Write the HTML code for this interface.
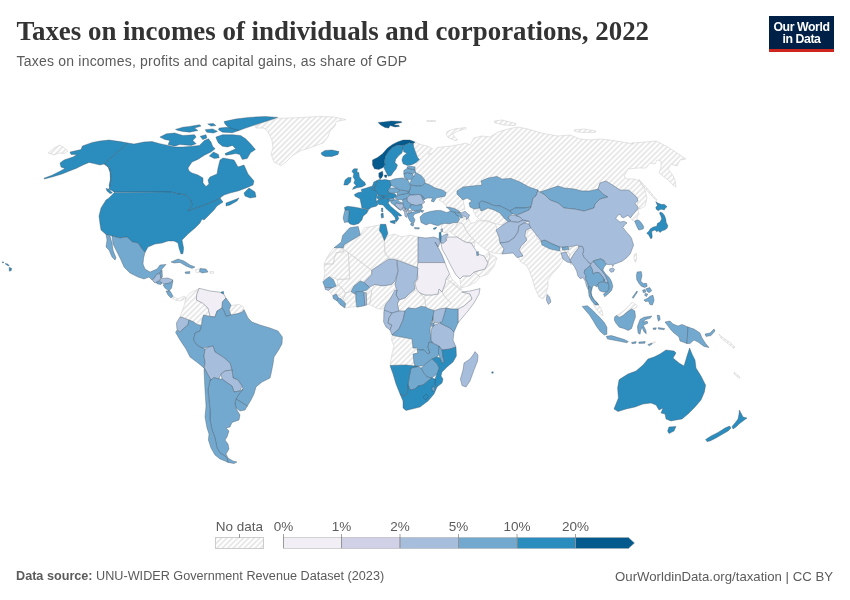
<!DOCTYPE html>
<html lang="en">
<head>
<meta charset="utf-8">
<title>Taxes on incomes of individuals and corporations, 2022</title>
<style>
html,body{margin:0;padding:0;background:#fff;}
body{width:850px;height:600px;position:relative;overflow:hidden;font-family:"Liberation Sans",sans-serif;color:#5b5b5b;}
#title{position:absolute;left:16.5px;top:15.3px;margin:0;font-family:"Liberation Serif",serif;font-weight:700;font-size:26.9px;line-height:32px;color:#333;white-space:nowrap;transform-origin:0 50%;}
#subtitle{position:absolute;left:16.5px;top:52.8px;margin:0;font-size:14px;letter-spacing:0.21px;line-height:17px;color:#5b5b5b;white-space:nowrap;transform-origin:0 50%;}
#logo{position:absolute;left:769px;top:16px;width:65px;height:33px;background:#002147;border-bottom:3px solid #ce261e;color:#fff;font-weight:700;font-size:12.3px;line-height:12px;text-align:center;letter-spacing:-0.42px;}
#logo span{display:block;}
#logo span.a{margin-top:5.2px;}
#footer-l{position:absolute;left:16px;top:568.8px;font-size:12.65px;line-height:15px;white-space:nowrap;transform-origin:0 50%;}
#footer-l b{font-weight:700;}
#footer-r{position:absolute;right:17px;top:568.8px;font-size:13.2px;line-height:15px;white-space:nowrap;transform-origin:100% 50%;}
#map{position:absolute;left:0;top:0;}
.lg{font-family:"Liberation Sans",sans-serif;font-size:13.5px;fill:#5b5b5b;}
</style>
</head>
<body>
<h1 id="title">Taxes on incomes of individuals and corporations, 2022</h1>
<p id="subtitle">Taxes on incomes, profits and capital gains, as share of GDP</p>
<div id="logo"><span class="a">Our World</span><span>in Data</span></div>
<svg id="map" width="850" height="600" viewBox="0 0 850 600">
<defs><pattern id="hatch" width="3.85" height="4" patternUnits="userSpaceOnUse" patternTransform="rotate(45)"><rect width="4" height="4" fill="#fff"/><line x1="1.9" y1="-1" x2="1.9" y2="5" stroke="#e8e8e8" stroke-width="1.9"/></pattern></defs>
<g fill="url(#hatch)" stroke="#d2d2d2" stroke-width="0.6" stroke-linejoin="round">
<path d="M255 126L264 122L278 118.4L300 117.6L320 116.4L334 117L346 119.6L336 121.6L335 126L330 131L328 137L323 143L312 147L300 151L292 156L286 162L281 165.6L274 162L271 154L273 148L272 140L268 132L264 128L256 128ZM48 153L54 148L60 145L63 147L68 151L64 153.6L59 153L54 155ZM173 296.4L178 299L184 296L186.4 298L180 301L175 300L172.4 298.4ZM195.6 269.4L199.6 269L199.6 272.4L196 272.4ZM210 271.6L213.6 271.6L213.6 273.2L210 273.2ZM180 317L184 306L186 298L190 293L199 288.4L196.6 295L196.4 300L202.4 303L208 308L210 316.4L203.6 315L202 320L201.6 325.6L197 324.4L193 321.6L189 320L184 318ZM231 305.6L239 304.4L243.6 307L242.4 312L238 313.6L231 314.4L229.4 310ZM447.5 131.2L455 128.8L466 127.5L466 128.8L457.5 131.2L452.5 134.4L457.5 140L455 140.6L448.1 137.5L446.2 134.4ZM426.9 120.6L435.6 120.6L435.6 121.6L426.9 121.6ZM415 141.9L420 144.4L427.5 146.2L432.5 148.8L430 151.2L428.1 154.4L432.5 153.1L437.5 147.5L442.5 146.9L450 146.2L460 144.4L466 143.1L470 145L474 138L482 136L490 137L498 132L508 129L518 127L528 129L538 132L546 134L558 136L570 135L580 139L590 140L600 139L610 140L622 142L634 144L632 143L646 142L656 141L666 146L674 151L680 155L686 159L680 160L677 166L671 164L668 169L672 174L675 180L676 187L673 185L668 180L663 176L659 173L661 168L661 161L657 160L655 164L650 163L646 168L638 168L628 169L624 176L627 179L634 179L640 181L645 190L647 198L645 206L640 209L637 206L638 201L634 194L628 192L620 190L614 186L606 181L600 183L598 189L590 191L582 191L574 189L564 188L558 186L549 189L540 192L538 191L530 188L520 186L511 179L502 180L496 177L484 180L482 186L470 188L463 187L457 191L457 194L460 197L463 200L465 209L460 211L454 208L447 207L444 203L439 200L442 197L444 192L438 189L428 185L435 188.1L430 185L425 183.1L424.4 179.4L421.2 175.6L415.6 172.5L415 170L415 166.9L419.4 159.4L417.5 157.5L415.6 152.5L413.8 147.5L413.1 143.8ZM401.2 178.1L405 177.2L407.5 179.4L404.4 178.8ZM494 121L502 120L516 123.6L515 125.6L504 125L495 123ZM574 130L584 129L596 131L595 132.4L582 132.4L575 131.6ZM639 179.4L646 187L652 194L657 200L656 200.4L650 194L644 187L638.6 180ZM473 210L480 208.4L481 211L488 208L494 210L500 213L504 218L508 221.6L502 225L496 224L488 221L480 220L476 216ZM458 222.4L463 224L466 230L470 236L475 241L471 243L465 242L457 237L450 232L455 228ZM458 222.4L459.6 219.2L463 217.6L466.6 219.6L468.4 218L470.8 223.2L475 222.6L477 220L480 221L488 221L496 224.4L497 230L499 237L500 243L504 249L502 254L494 253L488 251L482 247L475 241L470 236L466 230L463 224ZM471 243L475 241.6L474.4 247ZM479 257L484 256L489 252L490 256L488 263L485 259ZM489 253L497 258L494 266L488 274L480 277L474 272L485 269L488 263L490 256ZM460 279L463 276L470 276L474 272L480 277L476 282L468 286L461 288ZM440.8 224.2L445 223.3L450 223.8L453.3 222.5L457.5 222.5L455 227.5L451.7 230L446.7 233.3L442.5 231.7L441.7 228.3ZM527 230L535 230L537 238L541 242L541.6 243.6L550 247L560 250L561 252L563 260L562 262L558 268L552 274L548 280L548 286L546 294L543 299L539 297L535 288L532 278L529 270L526 265L521 262L518 257L523 256L520 250L523 247L527 236ZM719 334L722 337L730 342.4L735 347L734 348.4L728 343.6L721 338ZM734.4 372.4L740 377L739.6 378.4L734 374ZM564.4 250.2L569.7 246.7L573.7 243.7L576.7 243.4L579.6 246.1L577.8 249L574.9 252.5L572.6 256L570.2 260.1L569.1 258.3L569.7 254.2L567.3 252.5L564.4 252.5ZM634.4 254.2L636.4 253.7L636.7 258.3L635.6 262.4L633.8 258.9ZM630.4 217.9L632.5 215L635 212.1L637.9 208.8L639.6 207.9L637.9 210.8L639.2 214.2L637.1 216.7L637.1 220L634.6 221.2L632.5 220.4ZM593.2 304.4L597.1 303.8L600.4 307L602.3 311.6L603 315.5L600.4 314.2L597.8 310.9L595.2 307.7ZM616.6 315.5L619.9 313.5L625.1 309.6L629.6 305.1L632.2 302.1L637.4 305.7L635.5 308.3L631.6 309L627.7 311.6L623.1 315.5L619.2 317.4ZM651.7 343L655 341.5L655.6 342.4L652.2 343.9ZM559 246L563 246L570 249L578 244.4L579.6 249L576 255L573 260L571 265L569.6 260L570 254L567 251L562.4 250.4L560 251.6ZM388 236L394 234L402 237L410 235L418 237L418 263L418 268L397 259L389 258L385 253L384 241L384.4 240.6ZM399 300L405 298L410 293L415 290L420 293L425 299L425.6 307L421 306.4L415 308.8L408 307.8L405 311L399 311L397.4 304ZM420 293L425 295L432 295L438 294L439 289L442 292L445 297L451 303L446 308L439 309L434 310.4L429 309L425.6 307L425 299ZM445 284L449.6 281L458 287L462 292L470 294L472 299L464 306L458 309L451 309L446 308L451 303L445 297L442 292ZM449.6 274L452 279L458 285L462 290L460 289.4L454 285L449.6 281L446 279ZM384 312L388 312.6L387.6 315L384 315ZM392 336L396 336L412 339L413 348L417 349L418 353L414 354L414 363L415 366L406 365L390 365L392 354L394 346L391.6 340ZM431 327L434 326L434.4 330L431.6 330.4ZM334.1 247.7L343.3 247.7L343.3 251.9L336.2 252.6L334.1 259L333.4 264L324.2 264L327 257.6L330.6 251.9ZM324.2 264L333.4 264L334.1 259L336.2 252.6L343.3 251.9L343.3 249.1L348.3 252.6L349.7 278.8L337.7 279.5L330.6 276.7L327 278.1L323.5 280.2L324.9 273.2L324.2 267.5ZM348.3 252.6L371.7 270.3L371.7 274.6L363.9 281.7L360.3 280.9L354 285.9L351.1 291.6L347.6 292.3L345.5 293L341.9 288L337.7 284.5L337 279.5L349.7 278.8ZM360.3 234.9L364.6 227.8L379.4 225L380.2 232.1L384.4 240.6L385.1 253.3L388.7 257.6L371.7 270.3L348.3 252.6L343.3 249.1L343.3 247.7L344 244.8L349.7 241.3L354.7 238.5ZM328.5 290.4L332 288L336.2 285.9L337.7 284.5L341.9 288L345.5 293L343.3 298.7L339.8 295.8L336.2 294.4L332.7 295.8ZM345.5 293L351.1 291.6L355.4 294.4L356.1 306.4L345.5 307.9L345.5 303.6L343.3 298.7ZM366.3 292.7L369.5 288L371.7 290.2L370.9 297.2L369.5 304.3L366.8 304.7ZM369.5 304.3L370.9 297.2L371.7 290.2L374.5 284.5L383 285.9L391.5 284.5L395 280.9L397.9 290.2L394.3 295.8L391.5 300.1L385.8 304.3L383 309.3L377.3 308.6L371.7 305.7Z"/>
</g>
<g stroke="#3a4a5a" stroke-opacity="0.7" stroke-width="0.5" stroke-linejoin="round">
<path fill="#2b8cbe" d="M104.4 163.6L109.6 168L111 176L110.4 184L115 192.4L112 190L109 186L110.4 179L110 172L108 167L104 164L100 165L94 163.6L89 162.4L83 165L76 168.4L70 170.8L62 174L52 177L44.4 179L44 178.2L52 175.2L60 171.2L65 168.4L61 167L60 163L64 160L73 157L77 154.4L71 154.4L70 152L81 149.6L82.4 146L92.4 142.4L100 141L109 140L120 141.6L128 143Z"/>
<path fill="#2b8cbe" d="M128 143L134 144L144 142L152 141.6L159.9 143.7L168.1 145.4L174.7 147L182.9 147L192.8 146.2L199.4 145.4L204.4 140.4L208.5 138.8L211 142.1L212.6 146.2L215.1 148.7L211 152L204.4 155.2L197.8 159.4L192 162L188 168L189 171L192 173L198 175L203 178L203 183L206 186.4L209 184L208 180L210 177L217 174L218 168L220 160L223 158L234 160L238 167L244 165L248 174L254 181L253 185L246 188L238 191L230 193L224 195L220 198L217 200L210 203L202 206L194 209L188 211L189 209L192 205L191 200L186 195L180 194L178 194L171 192L114.4 192L109 189L110.4 184L111 176L109.6 168L104.4 163.6Z"/>
<path fill="#2b8cbe" d="M114.4 192.4L171 192L178 194L180 194L186 195L191 200L192 205L189 209L188 211L194 209L202 206L210 203L217 200L220 198L223 202L217 206L214 210L210 214L204 220L202 219L200 223L195 228L188 234L182 240L183.6 248L183 253.6L181 254L179 248L178 243L174 241L168 241L162 243L155 244L148 247L145 252.4L142 249L138 243L132.4 242L127 237L120 238L112 236L106 234.4L101 230L100 224L99 216L101 208L106 200L109 198Z"/>
<path fill="#2b8cbe" d="M224.1 121.5L235.7 119L248.8 117.4L265.3 116.5L277.7 117.4L265.3 121.5L255.4 124.8L245.6 128.1L239 130.5L232.4 129.7L227.4 126.4L225 123.9Z"/>
<path fill="#2b8cbe" d="M207.7 123.9L213.4 123.5L215.9 125.6L211 126.1Z"/>
<path fill="#2b8cbe" d="M219.2 128.1L227.4 127.2L239 130.5L232.4 132.7L222.5 132.2L218.4 129.7Z"/>
<path fill="#2b8cbe" d="M175.5 129.4L182.9 127.2L189.5 126.4L199.4 124.8L201.1 126.1L194.5 128.1L197.8 130.5L189.5 132.2L182.9 131.4L178 130.5Z"/>
<path fill="#2b8cbe" d="M205.2 129.7L212.6 128.9L217.5 131.4L213.4 133L206.8 132.2Z"/>
<path fill="#2b8cbe" d="M159.9 137.1L166.5 133.8L174.7 133L182.9 135.5L194.5 134.7L196.1 137.1L192.8 140.4L196.1 143.7L191.2 145.4L179.7 144.5L174.7 146.2L168.1 144.5L169.8 140.4L164.8 139.6Z"/>
<path fill="#2b8cbe" d="M200.2 136.3L206 134.7L206.8 137.9L202.7 139.6Z"/>
<path fill="#2b8cbe" d="M215.9 137.1L222.5 134.7L232.4 134.7L240.6 135.5L245.6 138.8L250.5 143.7L255.4 149.5L250.5 152.8L247.2 158.5L242.3 159.4L239.8 154.4L235.7 153.6L230.7 154.4L225.8 155.2L225 153.6L230.7 151.1L235.7 148.7L232.4 145.4L227.4 147L222.5 146.2L218.4 142.9L216.7 139.6Z"/>
<path fill="#2b8cbe" d="M209.3 156.1L213.4 152L218.4 154.4L219.2 157.7L214.3 158.5Z"/>
<path fill="#2b8cbe" d="M244 193L249 188L255 192L256 197L250 198L245 196Z"/>
<path fill="#2b8cbe" d="M226 203L234 200L239 198L237 201L230 205L226 206Z"/>
<path fill="#2b8cbe" d="M106 188.4L109 189.2L112.4 193L110 193.6L107 191Z"/>
<path fill="#2b8cbe" d="M321 153L325 150.4L332 150L339 151.6L338 154.4L332 156.4L325 156.4L322 155Z"/>
<path fill="#2b8cbe" d="M9.2 267.3L11.7 268.5L11.2 270.6L9.3 271.2Z"/>
<path fill="#2b8cbe" d="M5.5 263.4L7.5 264L9.2 265.4L8.6 266L6.8 265L5.4 264Z"/>
<path fill="#2b8cbe" d="M2.3 261.8L3.6 262L3.5 262.9L2.3 262.7Z"/>
<path fill="#74a9cf" d="M106 234.4L110 236L112 243L113 250L116 258L115 260L112 257L109 250L106 247L107 240Z"/>
<path fill="#74a9cf" d="M112 236L120 238L127 237L132.4 242L138 243L142 249L145 252.4L143.6 258L143 264L145 269L150 272L157 269L160 265L166 264.4L162 269L160 273L157 274L155 277L152 280L149 277L144 279L138 277L130 273L124 267L121 260L117 252L113 244Z"/>
<path fill="#a6bddb" d="M155 277L157 274L160 273.6L161 278L159 281L155 283L152.4 280.4Z"/>
<path fill="#74a9cf" d="M160 273L162 270L162.4 277L161 278Z"/>
<path fill="#a6bddb" d="M161 278.4L168 278L173 280L170 283L165 284L162 283L159.6 281Z"/>
<path fill="#74a9cf" d="M156 282.6L159 281L162 283L161 284.4L157.6 284Z"/>
<path fill="#74a9cf" d="M165 284L170 283L173 280.4L171.6 288L169 291L165 288L163 285Z"/>
<path fill="#74a9cf" d="M166 291L170 291L173 296L171 298L168 295Z"/>
<path fill="#74a9cf" d="M171 262L178 259L184 261L190 265L195 267L192 268.4L186 266L180 262.4L174 263Z"/>
<path fill="#74a9cf" d="M200 268.4L206 269L208 272L202 273L199.6 271.6Z"/>
<path fill="#74a9cf" d="M185 272L190 271.6L189.6 273.6L185.6 273.6Z"/>
<path fill="#2b8cbe" d="M221 292L223.6 291.6L223.6 294.4L221.2 294.4Z"/>
<path fill="#f1eef6" d="M199 288.4L202.4 289L210 291L219 292L223.6 294L226 298L222.4 302L222 308L217 311L215 317L210 316.4L208 308L202.4 303L196.4 300L196.6 295Z"/>
<path fill="#74a9cf" d="M226 298L231 305L229 310L231 315L226 316.4L224 311L222 308L222.4 302Z"/>
<path fill="#a6bddb" d="M180 317L184 318L189 320L188 325L183 329L180 332.4L177 329.6L176.4 323Z"/>
<path fill="#74a9cf" d="M177 330L180 332.4L183 329L188 325L189 320L193 321.6L197 324.4L201.6 325.6L200 331L195 333L193.6 340L197 345L202.4 348L205 349L204 356L205 362L204 368L198 363L190 357L186 349L180 340L175.6 332.4Z"/>
<path fill="#74a9cf" d="M201.6 325.6L202 320L203.6 315L210 316.4L215 317L217 311L222 308L224 311L226 316.4L231 315L238 313.6L242.4 312L244 309.6L248 318L252 322L260 325L270 328L278 331L282.4 337L282 344L278 351L274 357L273 364L271 374L270 378L262 382L256 387L254 394L251 400L247.4 406L236 399L239 394L243 389L242 386L238 380L233 378L232 370L230 363L223 357L215 352L213 346L209 347L202.4 348L197 345L193.6 340L195 333L200 331Z"/>
<path fill="#a6bddb" d="M205 349L209 347L213 346L215 352L223 357L230 363L232 370L225 371L221 374L219 379L214 377.6L211 380L208 375L204.4 368L205 362L204 356Z"/>
<path fill="#a6bddb" d="M221 374L225 371L232 370L233 378L238 380L242 386L240 391L234 392L232 386L226 382L222 379Z"/>
<path fill="#74a9cf" d="M236 399L247.4 406L245 410L240 411L236 408L235 403Z"/>
<path fill="#74a9cf" d="M211 380L214 377.6L219 379L222 379L226 382L232 386L234 392L240 391L243 389L239 394L236 399L235 403L236 408.4L240 415L239 420L232 422.4L230 427L226 428L229 431L227 437L225 440L228 444L229 449L226 454L228 458L233 461L237 462L234 463.6L228 462.4L227 458L225 456L220 453L217 448L215 438L212 430L210 420L210 410L209 400L208 390L210 380Z"/>
<path fill="#74a9cf" d="M204.4 368L208 375L211 380L210 380L208 390L209 400L210 410L210 420L212 430L215 438L217 448L220 453L225 456L227 458L228 462.4L225 461L220 459L215 455L211 448L208.4 440L209 434L207 428L205 417L206 406L205 390L204 370Z"/>
<path fill="#2b8cbe" d="M343.8 185L345 180L348.1 177.5L351.2 177.5L350.6 181.9L347.5 185Z"/>
<path fill="#2b8cbe" d="M351.9 171.2L353.8 168.8L357.5 168.8L356.9 171.9L358.8 172.5L359.4 176.9L361.9 180L365 182.5L365.6 185L361.9 186.9L356.9 187.8L352.5 189.4L353.8 186.9L356.2 185.6L353.8 183.1L355 180L353.1 176.9L353.8 173.8Z"/>
<path fill="#2b8cbe" d="M354.4 194.4L358.1 192.5L361.9 191.9L361.2 189.4L366.2 188.1L369.4 186.9L371.2 188.8L375.6 190.6L378.1 193.1L376.2 197.5L376.2 201.2L378.1 204.4L376.2 206.2L371.2 207.5L368.8 209.4L361.9 208.1L361.2 204.4L360 198.8L355 196.2Z"/>
<path fill="#2b8cbe" d="M381.5 208.1L382.8 208.1L382.8 211.9L381.5 211.5Z"/>
<path fill="#2b8cbe" d="M344.4 207.5L347.5 206.2L355 207.2L361.9 208.5L368.5 209.8L366.9 213.1L363.1 216.2L361.9 220L358.8 223.5L353.8 225L350 224L348.1 221.9L348.8 213.8L349.4 210.6L345 210Z"/>
<path fill="#74a9cf" d="M345 210L349.4 210.6L348.8 213.8L348.1 221.9L344.4 222.5L343.1 218.1L344 213.8Z"/>
<path fill="#2b8cbe" d="M369.4 186.9L372.5 186L375 187.8L375.6 190.6L371.2 188.8Z"/>
<path fill="#2b8cbe" d="M372.5 186L373.8 181.9L376.9 180.6L376.2 185L375 187.8Z"/>
<path fill="#2b8cbe" d="M376.9 180.6L379.4 179.4L381.9 180L385 179.4L390 180.6L391.2 185.6L390 188.1L388.1 190.6L390 193.1L387.5 195.6L382.5 196L378.1 195.2L378.1 193.1L375.6 190.6L375 187.8L376.2 185Z"/>
<path fill="#045a8d" d="M378.8 173.1L382.5 171.2L383.1 175L381.9 177.5L380 179L378.8 176.2Z"/>
<path fill="#045a8d" d="M384.4 175L386.9 175L386.5 177.5L384.8 177.2Z"/>
<path fill="#2b8cbe" d="M376.2 197.5L378.1 195.2L382.5 196L383.1 198.1L378.8 199.8Z"/>
<path fill="#2b8cbe" d="M382.5 196L387.5 195.6L390 193.1L395 193.8L396.9 196.2L393.8 198.1L388.8 198.8L385 198.1L383.1 198.1Z"/>
<path fill="#2b8cbe" d="M376.2 201.2L378.8 199.8L383.1 198.1L388.8 198.8L390 200.6L388.1 203.1L390.6 206.2L395 210L398.8 213.1L401.9 215.6L400 216.2L397.5 215L398.8 218.8L396.2 221.9L395 217.5L391.2 213.1L386.2 208.8L383.1 205L378.8 204.4Z"/>
<path fill="#2b8cbe" d="M390 221.2L395.6 220L395 223.8L390.6 222.5Z"/>
<path fill="#2b8cbe" d="M381 213.8L383.1 213.1L383.5 217.5L381.5 218.1Z"/>
<path fill="#74a9cf" d="M388.8 198.8L393.8 198.1L394.4 200L390.6 201Z"/>
<path fill="#74a9cf" d="M390.6 201L394.4 200L397.5 199.4L400 201.9L403.1 203.1L400 203.8L396.2 203.1L395 205L397.5 207.5L401.2 210.6L398.1 208.8L393.8 205L391.2 203.1Z"/>
<path fill="#a6bddb" d="M396.2 203.1L400 203.8L403.1 203.8L403.8 206.9L401.2 210L397.5 207.5L395 205Z"/>
<path fill="#74a9cf" d="M396.9 196.2L398.8 195L405 193.8L408.8 192.5L410 195L406.9 198.1L402.5 200L397.5 199.4L395 198.1Z"/>
<path fill="#74a9cf" d="M388.1 190.6L390.6 188.1L396.2 187.8L400 190L397.5 192.5L393.8 193.1L390 193.1Z"/>
<path fill="#74a9cf" d="M397.5 192.5L400 190.4L405 190.6L409.4 191.2L408.8 192.5L405 193.8L398.8 195L396.9 195.6Z"/>
<path fill="#74a9cf" d="M390 180.6L395 178.8L401.2 178.1L407.5 179.4L410 183.8L410.6 188.1L409.4 191.2L405 190.6L400 190L396.2 187.8L391.2 185.6Z"/>
<path fill="#74a9cf" d="M403.8 173.8L407.5 172.5L412.5 173.8L413.8 176.9L411.2 179.4L407.5 179.4L404.4 177.5Z"/>
<path fill="#74a9cf" d="M403.8 170.6L407.5 168.1L415 170L415.6 172.5L412.5 173.8L407.5 172.5L403.8 173.8Z"/>
<path fill="#74a9cf" d="M406.9 166.9L410 166L415 166.9L415 170L407.5 168.1Z"/>
<path fill="#74a9cf" d="M411.2 179.4L413.8 176.9L415.6 172.5L421.2 175.6L424.4 179.4L425 183.1L422.5 185.6L417.5 186.2L410.6 185L410 183.8Z"/>
<path fill="#74a9cf" d="M410.6 185L417.5 186.2L422.5 185.6L425 183.1L430 185L435 188.1L442.5 190L446.2 192.5L445 196.2L441.2 196.9L436.2 198.1L433.8 201.9L431.2 201.2L432.5 198.1L427.5 198.1L424.4 199.4L422.5 196.2L418.8 194.4L413.8 195L410 195L408.8 192.5L409.4 191.2L410.6 188.1Z"/>
<path fill="#74a9cf" d="M421.2 195.6L422.5 196.2L424.4 199.4L423.1 200.6Z"/>
<path fill="#a6bddb" d="M410 195L413.8 195L418.8 194.4L421.2 195.6L423.1 200.6L425 201.9L421.9 204.4L416.2 205.6L411.2 204.4L406.9 201.2L406.9 198.1Z"/>
<path fill="#74a9cf" d="M402.5 200L406.9 198.1L406.9 201.2L411.2 204.4L410 207.5L408.1 210L405 208.8L403.8 206.9L403.1 203.8Z"/>
<path fill="#74a9cf" d="M411.2 204.4L416.2 205.6L421.9 204.4L422.5 207.5L420.6 210L416.2 211.2L411.9 210.6L410 207.5Z"/>
<path fill="#a6bddb" d="M404.4 211.2L406.2 210.6L407.5 213.8L406.9 217.5L405 216.2Z"/>
<path fill="#a6bddb" d="M407.5 210.6L411.2 210.6L411.9 212.5L408.8 213.8Z"/>
<path fill="#a6bddb" d="M405.6 208.1L408.1 210L407.2 211.2L405.2 210Z"/>
<path fill="#a6bddb" d="M401.9 208.1L404.4 207.5L405.2 210L403.5 211.2Z"/>
<path fill="#74a9cf" d="M407.5 213.8L411.9 212.5L416.2 211.2L420.6 210.6L420 212.5L415 213.8L413.1 216.2L415 220L413.8 223.1L410 221.2L408.1 217.5Z"/>
<path fill="#74a9cf" d="M411.2 222.5L413.8 223.8L413.1 226.2L410.6 225Z"/>
<path fill="#74a9cf" d="M414.4 227.5L419.4 227.8L419 229L414.8 228.8Z"/>
<path fill="#74a9cf" d="M420.6 210L423.8 210.6L422.5 212.5L421 211.9Z"/>
<path fill="#045a8d" d="M378.1 122.5L383.8 121.9L391.2 121L401.2 121.5L401.9 122.5L396.2 123.5L393.8 125L398.8 125.2L399.4 126.5L395 126.9L390 125.6L388.8 128.1L385 127.5L380.6 125Z"/>
<path fill="#045a8d" d="M372.5 160L377.5 157.5L382.5 153.8L387.5 148.1L392.5 144.4L397.5 141.9L403.1 140L410 140L415 141.9L413.1 143.8L409.4 142.8L406.2 144.4L402.5 145.6L397.5 145L392.5 147.5L388.8 151.2L385.6 156.2L384.4 161.2L385 165L383.1 167.5L378.8 169.4L374.4 168.8L372.5 165Z"/>
<path fill="#2b8cbe" d="M397.5 145L402.5 145.6L403.1 148.8L401.9 153.1L398.8 155.6L395.6 159.4L395 162.5L397.5 165L396.2 168.8L393.1 172.5L391.2 175.6L388.1 176.2L385.6 171.2L383.8 167.5L385 165L384.4 161.2L385.6 156.2L388.8 151.2L392.5 147.5Z"/>
<path fill="#2b8cbe" d="M402.5 145.6L406.2 144.4L409.4 142.8L413.1 143.8L413.8 147.5L415.6 152.5L417.5 157.5L419.4 159.4L416.2 162.5L412.5 164.4L407.5 165.6L403.1 163.8L401.9 160L403.1 156.2L406.9 153.1L403.8 151.9L403.1 148.8Z"/>
<path fill="#74a9cf" d="M457 191L463 187L472 186L482 185L481 181L488 178L497 176.4L502 179L511 178.4L520 182L529 187L538 190L536 196L533 198L532 203L531 207L524 208L515 208L510 211L506 209L500 206L494 205.6L488 203L482 201L479 203L480 208L474 209L470 207L469 203L472 201L467 198L463 200L460 197L457 194Z"/>
<path fill="#74a9cf" d="M479 203L482 201L488 203L494 205.6L500 206L506 209L510 211L514 213L510 215L508 218L511 221L508 221.6L504 218L500 213L494 210L488 208L484 210L481 211L480 208Z"/>
<path fill="#74a9cf" d="M510 211L515 208L524 208L531 207L529 210L522 213L516 215L512 213.6Z"/>
<path fill="#a6bddb" d="M508 218L511 215L516 215.6L520 217L523 220L518 222.4L512 221.6Z"/>
<path fill="#a6bddb" d="M496 230L502 225.6L508 221.6L512 221.6L518 222.4L523 220L529 221L524 223L519 226L518 232L514 238L508 242L500 243L499 237Z"/>
<path fill="#a6bddb" d="M500 243L508 242L514 238L518 232L519 226L524 223L529 224L531 228L526 230L525 236L527 240L522 245L519 250L523 256L517 257.6L513 253L502 254L504 249Z"/>
<path fill="#74a9cf" d="M541 241L545 240L552 243.6L560 247L559.6 251L550 249L542 245Z"/>
<path fill="#74a9cf" d="M562 247L568 246.4L569 249.6L562.4 250Z"/>
<path fill="#a6bddb" d="M561 253L566 252L569 258L571 263L567 262L563 259Z"/>
<path fill="#74a9cf" d="M540 192L549 189L558 186L564 188L574 189L582 191L590 191L598 189L603 194L608 197L600 199L595 204L594 208L584 211L574 209L564 208L558 203L550 200L545 195Z"/>
<path fill="#f1eef6" d="M441 243L445 241L448 237L457 237L465 242L471 243L475 249L478 254L484 256L488 263L485 269L474 272L470 276L463 276L460 279L456 275L451 266L446 256L442 249Z"/>
<path fill="#74a9cf" d="M476.6 252L478.4 251.6L478.4 255.6L476.8 255.6Z"/>
<path fill="#74a9cf" d="M420 217L423.5 213.5L430 211.5L436 210.5L440.8 210.4L446.7 212.5L450.4 211.2L455 212.1L457.5 214.6L458.8 217.1L459.6 219.2L457.5 222.5L453.3 222.5L450 223.8L445 223.3L440.8 224.2L438.3 225.8L435 225L430 223.3L426 225L421 222.4Z"/>
<path fill="#74a9cf" d="M446.2 207.1L450 207.5L455 208.8L459.2 211.2L460.8 212.9L457.5 212.5L455 212.1L450.4 211.2L449.2 209.2Z"/>
<path fill="#74a9cf" d="M455.4 212.9L458.8 212.5L461.2 214.6L462.9 217.5L460.8 217.9L458.3 215.8L456.2 215Z"/>
<path fill="#a6bddb" d="M460.4 213.2L465 211.2L467.9 213.8L469.6 215L468.3 217.9L466.7 219.6L466.2 217.1L463.3 216.2L461.7 214.6Z"/>
<path fill="#a6bddb" d="M440.8 229.2L442.5 228.8L442.5 231.7L441.2 232.1Z"/>
<path fill="#2b8cbe" d="M439.2 232.5L440.8 232.1L441.4 236.7L440.4 242.5L439.2 238.3Z"/>
<path fill="#a6bddb" d="M441.4 236.7L444.2 235L447.5 233.8L448.3 235L445.8 238.3L446.7 240.4L443.3 243.3L440.7 242.9Z"/>
<path fill="#2b8cbe" d="M433.3 228.3L436.7 227.1L435.8 228.8L433.8 229.6Z"/>
<path fill="#a6bddb" d="M538 191L540 192L545 195L550 200L558 203L564 208L574 209L584 211L594 208L595 204L600 199L608 197L603 194L598 189L600 183L606 181L614 186L620 190L628.3 190L630.8 191.7L634.2 195L637.1 197.5L637.9 200.8L635 203.3L637.5 206.7L637.9 208.8L635 212.1L632.5 215L630.4 217.9L627.9 215.4L623.3 217.9L621.2 216.7L620.4 214.2L618.3 215L615.8 218.3L618.3 220.8L620 222.1L624.2 221.2L627.1 222.9L624.6 225L622.9 227.5L626.2 231.7L629.2 235L631.7 238.3L632 240L633.6 245L631 252L630.3 253.7L626.8 257.7L622.1 261.2L617.5 263L614 264.2L612.8 266.5L611.6 264.2L609.3 264.7L606.4 264.2L604.7 262.4L603.5 260.1L600.6 258.9L595.9 260.1L593 261.2L591.2 263.6L588.9 263L586.6 260.1L584.2 257.7L582.5 254.2L583.7 250.2L582.5 246.7L579.6 246.1L580 249L578 245L569 247L568 246.4L562 247L560 247L552 243.6L545 240L541 241L535 233L531 228L529 224L529 221L523 220L520 217L516 215.6L522 213L529 210L531 207L532 203L533 198L536 196L538 190Z"/>
<path fill="#a6bddb" d="M547 294.4L549.6 297L551 302L548.4 304.4L546.4 300Z"/>
<path fill="#74a9cf" d="M665 322L670 321L673 324L678 326L682 324.4L688 327L687 343.6L680 341L679 337L674 333L671 330L668 326Z"/>
<path fill="#74a9cf" d="M688 327L694 329L700 333L702 338L706 344L709 347.6L704 346.4L698 342L694 340L690 343.6L687 343.6Z"/>
<path fill="#74a9cf" d="M705 334L710 333L714 329L715 331L711 335.6L706 336.4Z"/>
<path fill="#a6bddb" d="M579.6 246.1L582.5 246.7L583.7 250.2L582.5 254.2L584.2 257.7L586.6 260.1L588.9 263L591.2 263.6L590.1 265.9L587.2 268.2L584.8 270L584.2 272.9L586 275.8L585.4 278.1L587.7 282.8L588.9 287.5L588.3 289.8L586.6 286.3L585.4 281.6L583.1 277.6L580.2 278.7L577.8 275.8L576.7 271.2L574.3 266.5L572 263.6L570.2 260.1L572.6 256L574.9 252.5L577.8 249Z"/>
<path fill="#a6bddb" d="M591.2 263.6L593 261.6L594.7 262.4L596.5 265.3L600 268.8L602.3 271.2L605.2 275.2L607.6 280.5L608.1 282.8L605.2 282.8L604.1 279.3L602.3 276.4L599.4 272.9L595.9 272.3L593 274.1L592.4 270L590.7 266.5L590.1 265.9Z"/>
<path fill="#74a9cf" d="M593 261.2L595.9 260.1L600.6 258.9L603.5 260.1L604.7 262.4L606.4 264.2L604.1 267.1L602.9 270L605.2 273.5L609.3 277.6L611.6 281.6L612.8 286.3L611.6 290.4L608.1 293.9L604.7 296.8L603.5 293.9L606.4 292.1L608.7 289.2L608.7 285.1L608.1 282.8L607.6 280.5L605.2 275.2L602.3 271.2L600 268.8L596.5 265.3L594.7 262.4L593 261.6Z"/>
<path fill="#74a9cf" d="M584.8 270L587.2 268.2L590.1 265.9L590.7 266.5L592.4 270L593 274.1L595.9 272.3L599.4 272.9L602.3 276.4L604.1 279.3L603.5 282.2L600 282.2L597.7 284L597.1 286.9L593.6 285.1L592.4 287.5L591.2 292.1L591.8 295.6L594.2 299.7L597.1 302.6L598.8 305L595.9 305L592.4 300.3L590.1 296.2L588.9 292.1L588.9 287.5L587.7 282.8L585.4 278.1L586 275.8L584.2 272.9Z"/>
<path fill="#74a9cf" d="M597.7 284L600 282.2L603.5 282.2L604.1 279.3L605.2 282.8L608.1 282.8L608.7 285.1L608.7 289.2L606.4 292.1L603.5 292.1L600 291L598.2 288.1Z"/>
<path fill="#a6bddb" d="M609.9 268.8L612.8 267.9L614.6 269.4L613.4 271.7L611.1 272.3L609.3 270.6Z"/>
<path fill="#2b8cbe" d="M655.8 201.7L658.3 203.3L661.7 204.6L664.2 204.2L667.1 206.7L665.4 207.9L664.2 210L661.7 209.2L660 209.6L658.3 210.8L656.2 209.2L655.8 207.1L657.5 205.8Z"/>
<path fill="#2b8cbe" d="M660 212.1L662.5 212.9L664.6 215.8L665.8 219.2L666.2 222.5L667.9 225.8L667.1 228.3L664.6 230L662.1 230.8L660 232.5L658.3 230.8L656.7 231.7L655 230L652.9 230.8L651.7 231.7L652.1 235L652.1 237.9L650.8 238.8L649.6 236.7L648.8 235L646.7 233.3L648.8 231.2L650.4 228.8L653.3 227.1L656.7 226.2L657.5 223.3L660 222.1L661.7 218.8L660.8 215.8L659.6 213.8Z"/>
<path fill="#74a9cf" d="M634.6 221.2L637.1 220L639.2 220.4L641.7 223.3L643.8 226.7L643.3 228.8L641.2 229.6L638.8 230L637.5 227.9L636.2 225L635.4 222.9Z"/>
<path fill="#74a9cf" d="M582.2 306.4L587.4 305.7L591.9 309.6L596.5 314.2L600.4 318.1L604.3 322.6L606.9 327.2L606.9 334.3L604.3 335L600.4 331.7L596.5 326.5L593.2 320.7L589.3 314.8L585.4 310.3Z"/>
<path fill="#74a9cf" d="M588.7 286.2L591.3 287.5L590.6 292.7L591.9 297.3L595.2 301.2L597.8 303.8L594.5 304.4L591.3 300.5L589 296L588.7 290.8Z"/>
<path fill="#74a9cf" d="M614.7 316.8L616.6 315.5L619.2 317.4L623.1 315.5L627.7 311.6L631.6 309L634.8 310.9L635.5 316.8L633.5 322.6L631.6 328.5L628.3 330.4L623.8 328.5L619.2 327.2L616 323.3L614.3 320Z"/>
<path fill="#74a9cf" d="M606.2 336.3L611.4 335.6L617.9 337.6L624.4 339.5L628.3 341.5L627 342.8L620.5 341.5L614 340.2L607.5 338.9Z"/>
<path fill="#74a9cf" d="M631.6 342.4L636.1 341.5L635.9 343.2L632 343.7Z"/>
<path fill="#74a9cf" d="M638.7 342.1L645.2 341.5L645 343.2L639 343.4Z"/>
<path fill="#74a9cf" d="M647.8 344.7L651.7 343L652.2 343.9L649.4 345.8Z"/>
<path fill="#74a9cf" d="M637.4 326.5L640 319.4L643.9 317.2L651.7 316.1L650.4 318.1L645.9 319.4L642.6 322L647.2 321.3L647.8 323.3L643.3 325.2L645.9 330.4L646.3 333.7L643.9 331.7L642 327.2L640.7 330.4L640 334.3L638.1 333Z"/>
<path fill="#74a9cf" d="M657.2 315.1L659.5 315.5L660.2 319.4L658.5 321.3L657.6 318.7Z"/>
<path fill="#74a9cf" d="M653 328.1L656.3 327.8L655.9 329.4L653.3 329.4Z"/>
<path fill="#74a9cf" d="M658.2 327.6L664.7 328.5L664.1 329.8L658.5 329.1Z"/>
<path fill="#74a9cf" d="M637.2 271.9L641.3 271.6L642 275.8L640.7 281L643.3 283.6L646.5 283.3L647.2 286.2L644.6 287.5L641.3 286.2L639 283.6L636.8 279.7L636.4 275.2Z"/>
<path fill="#74a9cf" d="M642.6 290.1L645.2 289.5L645.9 292.1L643.3 292.7Z"/>
<path fill="#74a9cf" d="M645.9 288.8L649.8 287.5L651.7 290.8L649.1 292.7L647.2 291.4Z"/>
<path fill="#74a9cf" d="M645.2 293.4L647.8 294L646.5 296.6L644.6 295.3Z"/>
<path fill="#74a9cf" d="M643.9 299.9L647.2 298.6L650.4 296L653 295.3L654.1 300.5L652.4 305.1L649.8 304.4L648.5 301.2L645.2 301.6Z"/>
<path fill="#74a9cf" d="M632.2 297.6L636.8 291.1L637.7 291.7L633.3 298.2Z"/>
<path fill="#a6bddb" d="M418 237L426 238L434 237L439 239L440 243L438 247L435 242L439 249L442 255L445 262.6L418 262.6Z"/>
<path fill="#f1eef6" d="M418 262.6L445 262.6L447 268L449.6 274L446 279L445 284L442 292L439 289L438 294L432 295L425 295L420 293L416.4 289L415 283L418 279L417 268Z"/>
<path fill="#a6bddb" d="M397 260L418 268L417 279L414 283L415 289L410 293L405 298L399 300L396 295L397 290L395 285L398 270Z"/>
<path fill="#a6bddb" d="M395 290L397 290L396 295L399 300L397.4 304L399 311L392 313L387 313L384 309L386 304L390 299Z"/>
<path fill="#f1eef6" d="M462 292L470 291L480 288.6L479 294L474 303L468 311L462 318L458 323L458 309L464 306L472 299L470 294Z"/>
<path fill="#a6bddb" d="M384 310L392 313L389 318L388 323L392 325L390 330L386 327L383.6 322Z"/>
<path fill="#a6bddb" d="M392 313L399 311L405 311L404.4 314L403 320L399 329L392 335L390 330L392 325L388 323L389 318Z"/>
<path fill="#74a9cf" d="M405 311L408 307.8L415 308.8L421 306.4L425.6 307L429 309L434 310.4L433 317L432 323L434 315L431 323L430 330L431 340L433 343L429 342L428 347L430 353L428 354L424 350L419 350L417 348L413 348L412 339L396 336L392 335L399 329L403 320L404.4 314Z"/>
<path fill="#74a9cf" d="M413 354L418 353L417 349L419 350L424 350L428 354L430 353L428 347L429 342L433 343L439 346L440 353L437 357L432 359L428 362L424 365.6L418 366.4L415 366L414 363Z"/>
<path fill="#a6bddb" d="M431 330L434 325L440 323L450 328L454 332L453 340L456 347L450 349L442 350L439 346L433 343L431 340Z"/>
<path fill="#74a9cf" d="M446 308L451 309L458 309L458 323L454 332L450 328L440 323L443 318L444 315Z"/>
<path fill="#a6bddb" d="M434 311L439 309L446 308L444 315L442 322L434 323L433 317Z"/>
<path fill="#74a9cf" d="M431 323.6L434 323L434 326L431.6 326.4Z"/>
<path fill="#74a9cf" d="M439 346L442 350L443 357L444.4 362L442 363L440 358L438.4 353Z"/>
<path fill="#2b8cbe" d="M442 350L450 349L456 347L456.4 356L453 362L447 367L442 372L441 376L443 379L442 383L437 387L435 385L435 379L439 368L437 364L433 360L432 359L437 357L440 358L442 363L444.4 362L443 357Z"/>
<path fill="#74a9cf" d="M424 365.6L428 362L432 359L433 360L437 364L439 368L437 374L432 378L427 377L423 372L421 368Z"/>
<path fill="#74a9cf" d="M411 368L418 366.4L421 368L423 372L427 377L432 378L428 381L423 385L418 386L415 389L410 390L408 385L409 378Z"/>
<path fill="#2b8cbe" d="M390 365.6L406 365L415 366L418 366.4L411 368L409 378L408 385L407.6 394L404 396L400 394L396 384L393 374Z"/>
<path fill="#2b8cbe" d="M400 394L404 396L407.6 394L408 385L410 390L415 389L418 386L423 385L428 381L432 378L435 379L435 385L437 387L434 394L428 401L420 407L412 409L406 410.4L403 408L403 401Z"/>
<path fill="#2b8cbe" d="M423 397L426 394L428.4 396.4L425.6 400Z"/>
<path fill="#74a9cf" d="M432 387L434.4 387L435 390L432.4 391.6Z"/>
<path fill="#a6bddb" d="M475 351.6L478 355L477.6 361L474 370L470 381L466 387L462 385.6L460.4 379L463 370L464 363L470 359L473 355Z"/>
<path fill="#2b8cbe" d="M491.8 371.8L493.2 371.8L493.2 373.2L491.8 373.2Z"/>
<path fill="#74a9cf" d="M349.7 227.8L358.2 226.4L360.3 234.9L354.7 238.5L349.7 241.3L344 244.8L343.3 247.7L334.1 247.7L341.2 242L342.6 235.6L346.9 230.7Z"/>
<path fill="#2b8cbe" d="M380.4 224.3L385.8 224.3L387.9 233.5L384.4 240.6L381.6 233.5L379.4 230.7Z"/>
<path fill="#a6bddb" d="M371.7 270.3L388.7 259L396.4 259.7L397.9 271.7L395 280.9L391.5 284.5L383 285.9L374.5 284.5L369.5 287.3L363.9 282.4L371.7 274.6Z"/>
<path fill="#74a9cf" d="M322.8 281.7L329.2 276.7L333.4 279.5L336.2 285.9L332 288L324.9 287.3Z"/>
<path fill="#a6bddb" d="M324.9 287.3L331.3 288L328.5 290.4L325.2 289.4Z"/>
<path fill="#74a9cf" d="M332.7 295.8L336.2 294.1L338.4 297.2L337 300.8L333.4 298.7Z"/>
<path fill="#74a9cf" d="M338.4 297.9L341.2 298.7L345.5 303.6L344.7 307.9L339.8 304.3L337 300.8Z"/>
<path fill="#74a9cf" d="M351.1 291.6L354 285.9L360.3 280.9L363.9 282.4L369.5 287.3L366.7 290.2L361.7 291.6L356.1 291.6L355.4 294.4Z"/>
<path fill="#74a9cf" d="M356.1 291.6L363.2 291.6L364.6 297.2L364.6 305.7L356.8 307.2L355.8 298.7Z"/>
<path fill="#a6bddb" d="M363.9 292.3L366.3 292.7L366.7 305L364.9 305.5Z"/>
<path fill="#2b8cbe" d="M620 379L628 374L636 371L643 365L648 359L654 357L660 354L666 350L674 351L676 353L673 358L679 363L684 366L687 356L689.6 348L692 354L695 360L696 368L701 376L705 384L705.6 385L704.4 392L701 400L695 407L688 414L682 419L676 420L671 421L666 419L665 414L661 413L663 408L659 410L656 405L651 403L643 404L635 407L626 409L618 411.6L614 409L616 404L618.4 398L617.6 388L619 380Z"/>
<path fill="#2b8cbe" d="M669 427L676 426.4L674 431L669 433.6L667.6 431Z"/>
<path fill="#2b8cbe" d="M739.4 410L741 413L743 417L747 418L743 421L739 424L736 427L733 429L732 426.4L735 423L738 419L739 414Z"/>
<path fill="#2b8cbe" d="M705.6 439.6L711 436L718 432.4L725 428L729.6 426L731 428L728 431L722 434.4L716 438L710 441L707 441.6Z"/>
</g>
<g id="legend">
<rect x="215.5" y="537.5" width="48" height="11" fill="url(#hatch)" stroke="#ccc" stroke-width="1"/>
<line x1="239.5" y1="534" x2="239.5" y2="538" stroke="#999" stroke-width="1"/>
<text class="lg" x="239.5" y="530.6" text-anchor="middle">No data</text>
<rect x="283.5" y="537.5" width="58.5" height="11" fill="#f1eef6" stroke="#aaa" stroke-width="0.5"/>
<rect x="341.5" y="537.5" width="58.5" height="11" fill="#d0d1e6" stroke="#aaa" stroke-width="0.5"/>
<rect x="400" y="537.5" width="58.5" height="11" fill="#a6bddb" stroke="#aaa" stroke-width="0.5"/>
<rect x="458.5" y="537.5" width="58.5" height="11" fill="#74a9cf" stroke="#aaa" stroke-width="0.5"/>
<rect x="517" y="537.5" width="58.5" height="11" fill="#2b8cbe" stroke="#aaa" stroke-width="0.5"/>
<path d="M575.5 537.5H628.5L634.5 543L628.5 548.5H575.5Z" fill="#045a8d" stroke="#aaa" stroke-width="0.5"/>
<g stroke="#8a8a8a" stroke-width="0.8">
<line x1="283.5" y1="534" x2="283.5" y2="548"/><line x1="341.5" y1="534" x2="341.5" y2="548"/><line x1="400" y1="534" x2="400" y2="548"/><line x1="458.5" y1="534" x2="458.5" y2="548"/><line x1="517" y1="534" x2="517" y2="548"/><line x1="575.5" y1="534" x2="575.5" y2="548"/>
</g>
<text class="lg" x="283.5" y="530.6" text-anchor="middle">0%</text>
<text class="lg" x="341.5" y="530.6" text-anchor="middle">1%</text>
<text class="lg" x="400" y="530.6" text-anchor="middle">2%</text>
<text class="lg" x="458.5" y="530.6" text-anchor="middle">5%</text>
<text class="lg" x="517" y="530.6" text-anchor="middle">10%</text>
<text class="lg" x="575.5" y="530.6" text-anchor="middle">20%</text>
</g>

</svg>
<div id="footer-l"><b>Data source:</b> UNU-WIDER Government Revenue Dataset (2023)</div>
<div id="footer-r">OurWorldinData.org/taxation | CC BY</div>
</body>
</html>
